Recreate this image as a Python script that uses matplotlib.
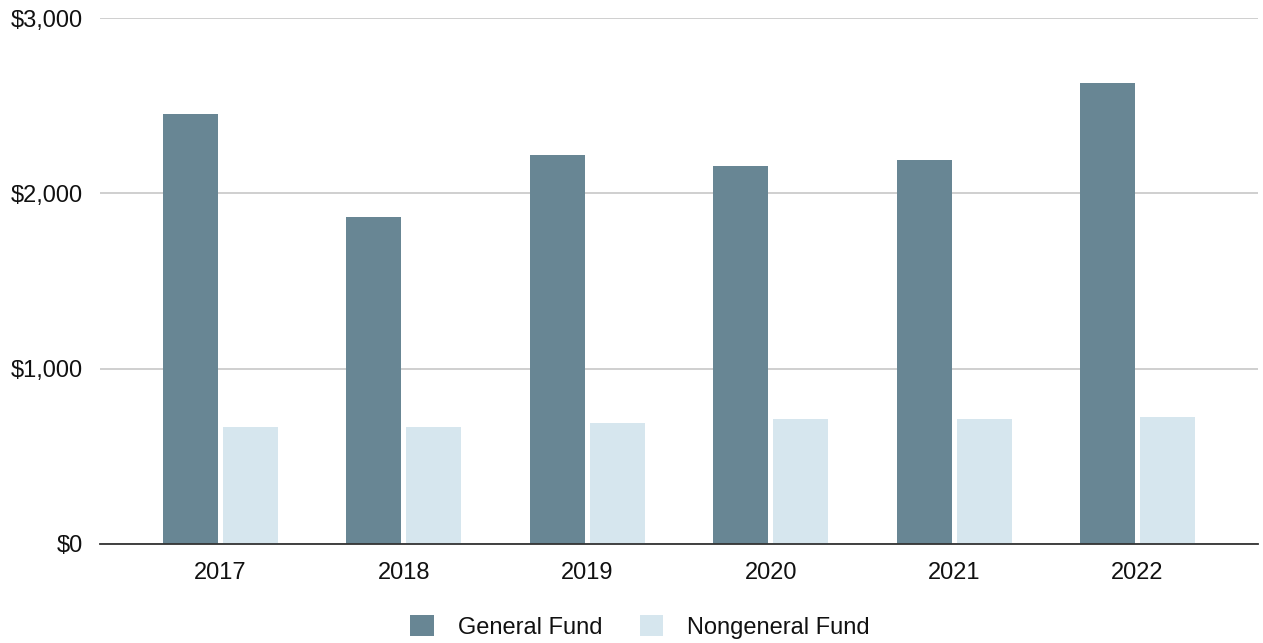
import numpy as np
import matplotlib
matplotlib.use('Agg')
import matplotlib.pyplot as plt
from matplotlib.ticker import FuncFormatter

# data
years = ["2017", "2018", "2019", "2020", "2021", "2022"]
general_fund = [2452, 1863, 2217, 2156, 2190, 2628]
nongeneral_fund = [666, 666, 688, 711, 711, 726]
series_names = ["General Fund", "Nongeneral Fund"]

plt.rcParams['font.family'] = ['Liberation Sans', 'DejaVu Sans']

fig = plt.figure(figsize=(12.63, 6.43), dpi=100)
ax = fig.add_axes([100 / 1263, 1 - 544 / 643, 1158 / 1263, 526 / 643])

ind = np.arange(len(years))
width = 0.30
gap = 0.014

b1 = ax.bar(ind - width / 2 - gap, general_fund, width, color="#688694", zorder=3)
b2 = ax.bar(ind + width / 2 + gap, nongeneral_fund, width, color="#d6e6ee", zorder=3)

ax.set_xlim(-0.657, len(years) - 1 + 0.657)
ax.set_ylim(0, 3000)
ax.set_yticks([0, 1000, 2000, 3000])
ax.yaxis.set_major_formatter(FuncFormatter(lambda v, p: "${:,.0f}".format(v)))
ax.set_xticks(ind)
ax.set_xticklabels(years)

ax.grid(axis="y", color="#cccccc", linewidth=1.3, zorder=0)
for s in ["top", "right", "left"]:
    ax.spines[s].set_visible(False)
ax.spines["bottom"].set_color("#333333")
ax.spines["bottom"].set_linewidth(1.3)
ax.spines["bottom"].set_zorder(4)
ax.tick_params(axis="both", length=0, labelsize=17, colors="#111111")
ax.tick_params(axis="y", pad=12)
ax.tick_params(axis="x", pad=13)

fig.legend((b1[0], b2[0]), series_names, loc="center", bbox_to_anchor=(640 / 1263, 1 - 627 / 643),
           ncol=2, frameon=False, fontsize=17, handlelength=1.0, handleheight=1.0,
           handletextpad=1.0, columnspacing=1.6, labelcolor="#111111")

fig.savefig("out.png", dpi=100)
